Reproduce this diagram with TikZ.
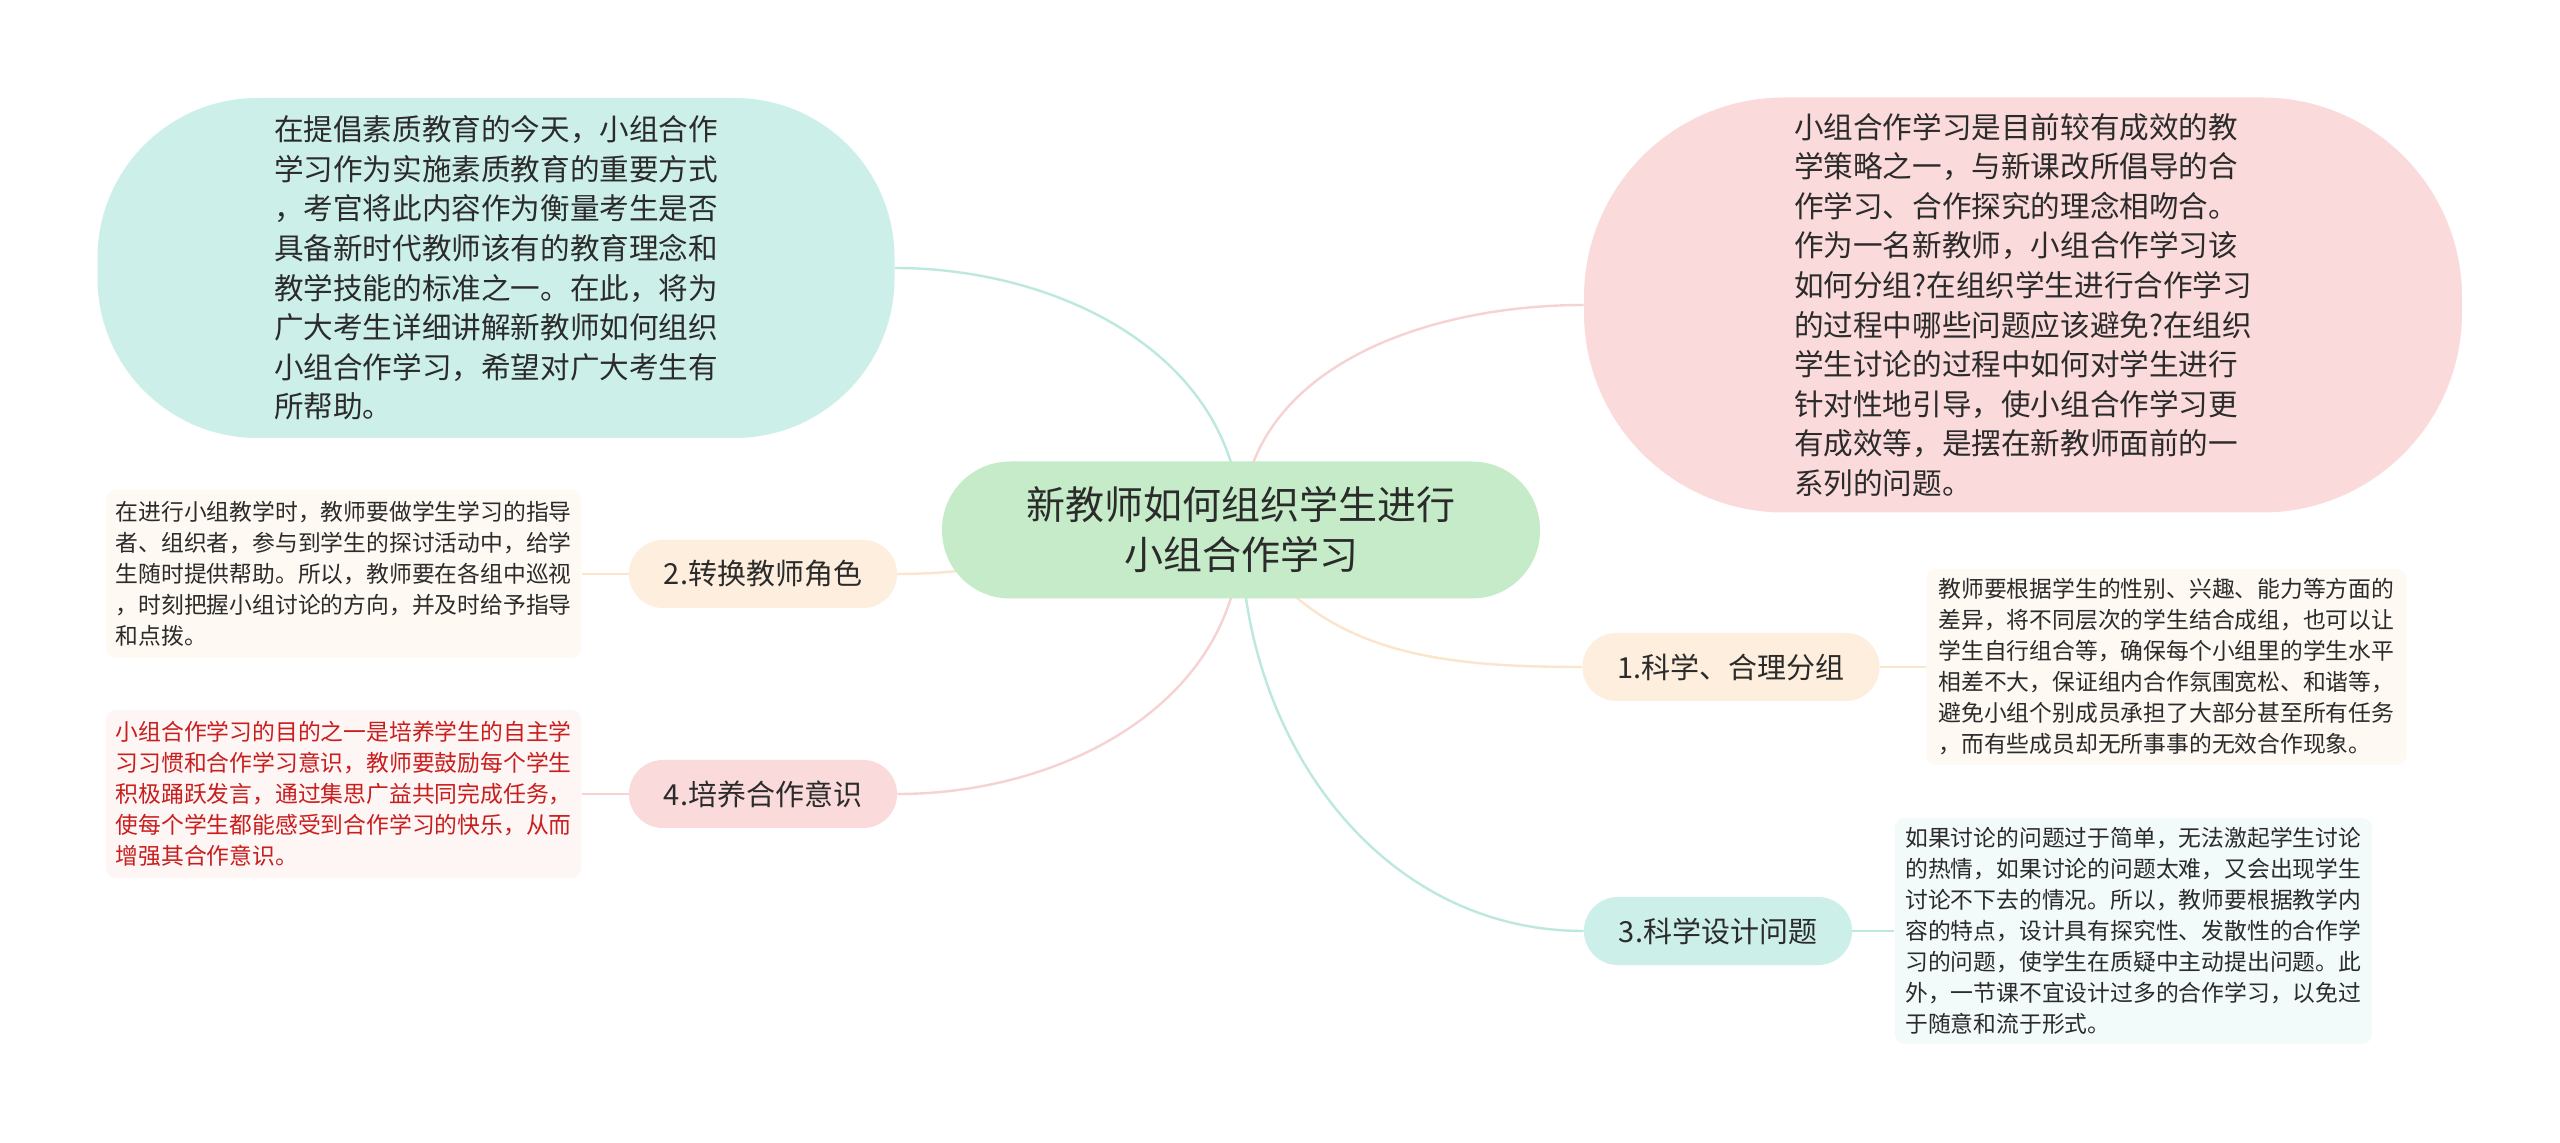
\documentclass[tikz,border=0pt]{standalone}
\usepackage{fontspec}
\setmainfont{Noto Sans CJK SC}
\usetikzlibrary{positioning,backgrounds}

\definecolor{rootgreen}{HTML}{C6EBC9}
\definecolor{tealfill}{HTML}{CDEFE9}
\definecolor{pinkfill}{HTML}{FADADA}
\definecolor{peachfill}{HTML}{FDEEDD}
\definecolor{tealline}{HTML}{BCE8DF}
\definecolor{pinkline}{HTML}{F6D2D2}
\definecolor{peachline}{HTML}{FBE5CC}
\definecolor{peachnote}{HTML}{FEF9F3}
\definecolor{pinknote}{HTML}{FEF5F5}
\definecolor{tealnote}{HTML}{F3FBFA}
\definecolor{inkgray}{HTML}{2B2B2B}
\definecolor{inkred}{HTML}{C81E1E}

\begin{document}
\begin{tikzpicture}[
    x=0.5pt, y=0.5pt,
    every node/.style={text=inkgray, inner sep=0pt},
    root/.style={fill=rootgreen, rounded corners=34pt, minimum width=299pt,
      minimum height=68.5pt, align=center, font=\fontsize{19.5pt}{25pt}\selectfont},
    blob/.style={rounded corners=#1, align=left, font=\fontsize{14.8pt}{19.8pt}\selectfont},
    branch/.style={rounded corners=17pt, minimum height=34pt, inner xsep=17.5pt,
      font=\fontsize{14.5pt}{17pt}\selectfont},
    note/.style={rounded corners=5pt, align=left, font=\fontsize{11.4pt}{15.5pt}\selectfont},
    link/.style={line width=1.2pt}
  ]

  % Nodes
  \node[root] (root) at (1241,-530) {新教师如何组织学生进行\\小组合作学习};

  \node[blob=80pt, fill=tealfill, minimum width=398.5pt, minimum height=170pt]
    (intro) at (496,-268) {在提倡素质教育的今天，小组合作\\学习作为实施素质教育的重要方式\\，考官将此内容作为衡量考生是否\\具备新时代教师该有的教育理念和\\教学技能的标准之一。在此，将为\\广大考生详细讲解新教师如何组织\\小组合作学习，希望对广大考生有\\所帮助。};
  \node[blob=100pt, fill=pinkfill, minimum width=439pt, minimum height=207.5pt]
    (issue) at (2023,-305) {小组合作学习是目前较有成效的教\\学策略之一，与新课改所倡导的合\\作学习、合作探究的理念相吻合。\\作为一名新教师，小组合作学习该\\如何分组?在组织学生进行合作学习\\的过程中哪些问题应该避免?在组织\\学生讨论的过程中如何对学生进行\\针对性地引导，使小组合作学习更\\有成效等，是摆在新教师面前的一\\系列的问题。};

  \node[branch, fill=peachfill] (b2) at (763,-574) {2.转换教师角色};
  \node[branch, fill=pinkfill] (b4) at (763,-794) {4.培养合作意识};
  \node[branch, fill=peachfill] (b1) at (1731,-667) {1.科学、合理分组};
  \node[branch, fill=tealfill] (b3) at (1718,-931) {3.科学设计问题};

  \node[note, fill=peachnote, minimum width=237.5pt, minimum height=84pt, left=23.5pt of b2]
    (n2) {在进行小组教学时，教师要做学生学习的指导\\者、组织者，参与到学生的探讨活动中，给学\\生随时提供帮助。所以，教师要在各组中巡视\\，时刻把握小组讨论的方向，并及时给予指导\\和点拨。};
  \node[note, fill=pinknote, text=inkred, minimum width=237.5pt, minimum height=84pt, left=23.5pt of b4]
    (n4) {小组合作学习的目的之一是培养学生的自主学\\习习惯和合作学习意识，教师要鼓励每个学生\\积极踊跃发言，通过集思广益共同完成任务，\\使每个学生都能感受到合作学习的快乐，从而\\增强其合作意识。};
  \node[note, fill=peachnote, minimum width=240pt, minimum height=98pt, right=23pt of b1]
    (n1) {教师要根据学生的性别、兴趣、能力等方面的\\差异，将不同层次的学生结合成组，也可以让\\学生自行组合等，确保每个小组里的学生水平\\相差不大，保证组内合作氛围宽松、和谐等，\\避免小组个别成员承担了大部分甚至所有任务\\，而有些成员却无所事事的无效合作现象。};
  \node[note, fill=tealnote, minimum width=238.5pt, minimum height=113pt, right=21pt of b3]
    (n3) {如果讨论的问题过于简单，无法激起学生讨论\\的热情，如果讨论的问题太难，又会出现学生\\讨论不下去的情况。所以，教师要根据教学内\\容的特点，设计具有探究性、发散性的合作学\\习的问题，使学生在质疑中主动提出问题。此\\外，一节课不宜设计过多的合作学习，以免过\\于随意和流于形式。};

  % Edges
  \begin{pgfonlayer}{background}
    \fill[white] (0,0) rectangle (2560,-1143);
    \draw[link, tealline] (root.center) to[out=90, in=0] (intro.east);
    \draw[link, pinkline] (root.center) to[out=90, in=180] (issue.west);
    \draw[link, peachline] (root.center) to[out=180, in=0] (b2.east);
    \draw[link, pinkline] (root.center) to[out=-90, in=0] (b4.east);
    \draw[link, peachline] (root.center) to[out=-60, in=180] (b1.west);
    \draw[link, tealline] (root.center) to[out=-90, in=180] (b3.west);
    \draw[link, peachline] (b2) -- (n2);
    \draw[link, pinkline] (b4) -- (n4);
    \draw[link, peachline] (b1) -- (n1);
    \draw[link, tealline] (b3) -- (n3);
  \end{pgfonlayer}
  \useasboundingbox (0,0) rectangle (2560,-1143);
\end{tikzpicture}
\end{document}
